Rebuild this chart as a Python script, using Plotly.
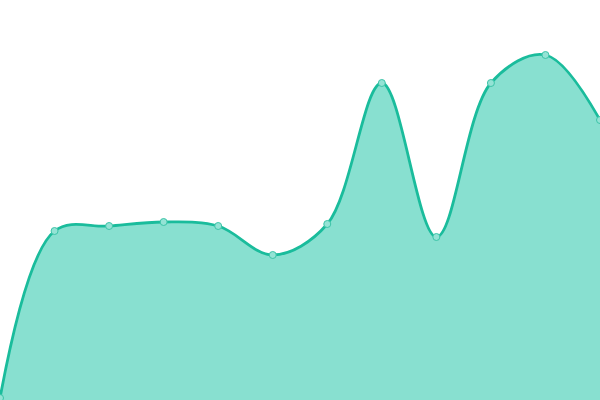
import plotly.graph_objects as go

# values (pixel-ish scale, 0 = bottom)
months = list(range(12))
values = [2, 169, 174, 178, 174, 145, 176, 317, 163, 317, 345, 280]

fig = go.Figure()
fig.add_trace(go.Scatter(
    x=months, y=values,
    mode="lines+markers",
    line=dict(color="#1abc9c", width=2.8, shape="spline", smoothing=1),
    fill="tozeroy",
    fillcolor="#88e0d0",
    marker=dict(size=7, color="#94e3d5", line=dict(color="#3cc4a8", width=1)),
    cliponaxis=False,
))
fig.update_layout(
    width=600, height=400,
    margin=dict(l=0, r=0, t=0, b=0),
    paper_bgcolor="white", plot_bgcolor="white",
    showlegend=False,
    xaxis=dict(range=[0, 11], visible=False),
    yaxis=dict(range=[0, 400], visible=False),
)
# drop the default 8px body margin so the chart sits flush in the window
fig.write_html("out.html", config={"displayModeBar": False},
               post_script="document.body.style.margin='0';")
